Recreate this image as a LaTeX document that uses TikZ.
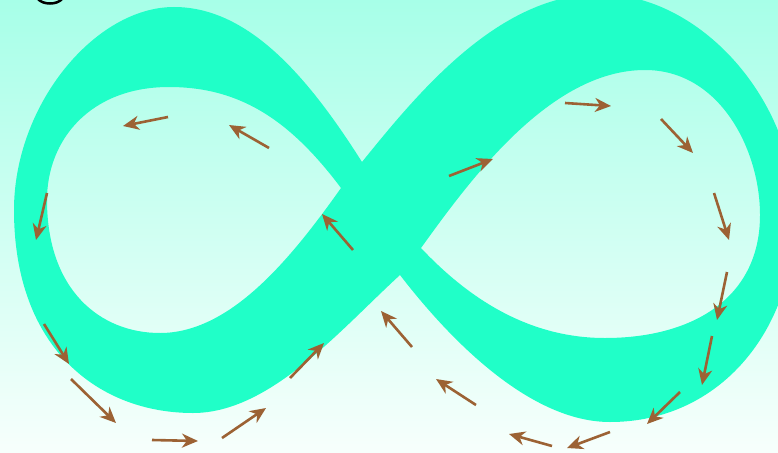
\documentclass[tikz,border=0pt]{standalone}
\usetikzlibrary{arrows.meta}

\definecolor{bgtop}{RGB}{167,255,232}
\definecolor{bgbottom}{RGB}{247,255,252}
\definecolor{bandcol}{RGB}{32,255,200}
\definecolor{flowcol}{RGB}{156,98,52}

\tikzset{
  band/.style={fill=bandcol, even odd rule},
  flow/.style={draw=flowcol, line width=2.6pt,
    -{Stealth[length=16pt, width=14pt, inset=5pt]}}
}

\begin{document}
\begin{tikzpicture}[x=1pt, y=-1pt]

% Fond
\useasboundingbox (0,0) rectangle (778,452);
\clip (0,0) rectangle (778,452);
\shade[top color=bgtop, bottom color=bgbottom] (0,0) rectangle (778,452);

% Ruban
\path[band]
  (362,162) .. controls (310,80) and (250,7) .. (174,7)
  .. controls (95,7) and (14,105) .. (14,210)
  .. controls (14,350) and (100,413) .. (193,413)
  .. controls (270,413) and (340,330) .. (400,275)
  .. controls (450,340) and (530,422) .. (610,422)
  .. controls (720,422) and (795,330) .. (795,215)
  .. controls (795,100) and (700,-6) .. (600,-6)
  .. controls (500,-6) and (420,90) .. (362,162) -- cycle
  (341,188) .. controls (290,120) and (240,87) .. (169,87)
  .. controls (90,87) and (47,140) .. (47,200)
  .. controls (47,290) and (100,333) .. (160,333)
  .. controls (230,333) and (290,260) .. (341,188) -- cycle
  (421,248) .. controls (470,180) and (550,70) .. (645,70)
  .. controls (720,70) and (760,150) .. (760,215)
  .. controls (760,300) and (690,338) .. (605,338)
  .. controls (530,338) and (470,300) .. (421,248) -- cycle;

% Fleches
\foreach \xa/\ya/\xb/\yb in {168/117/123/126, 269/148/229/125, 47/193/36/240,
  353/250/322/214, 449/176/493/159, 565/103/611/106, 661/119/693/153,
  714/193/729/240, 727/272/717/320, 712/336/702/385, 680/392/647/424,
  610/432/567/448, 552/446/509/434, 476/405/436/379, 412/347/381/311,
  290/378/324/343, 222/438/266/408, 152/440/198/441, 71/379/116/423,
  44/324/69/364}
{
\draw[flow] (\xa,\ya) -- (\xb,\yb);
}

% Trait noir
\draw[line width=2.5pt] (38,-1) .. controls (43,5) and (57,5) .. (62,-1);

\end{tikzpicture}
\end{document}
